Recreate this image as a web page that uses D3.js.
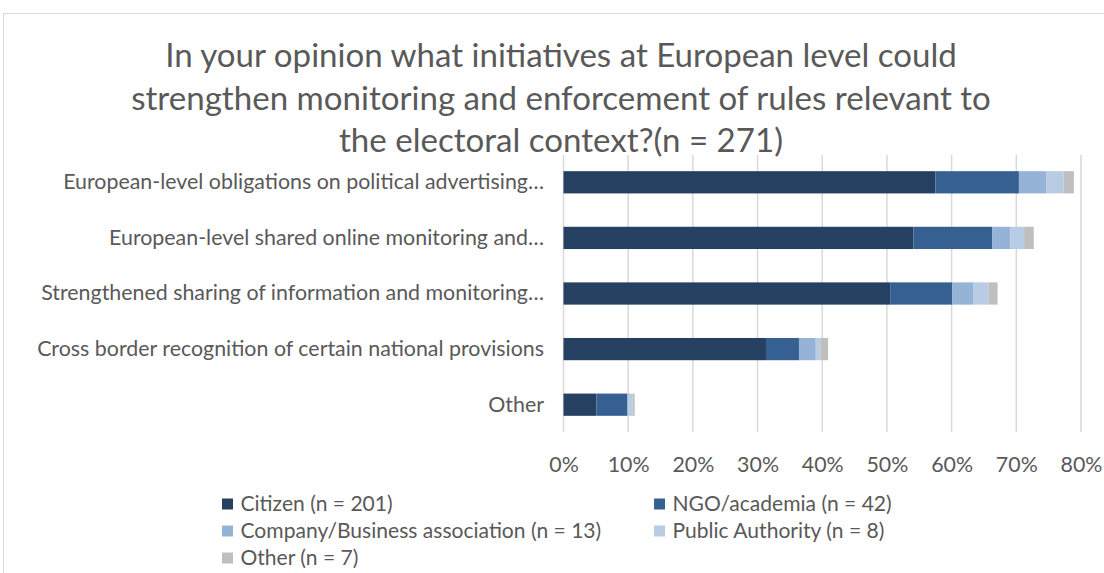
<!DOCTYPE html>
<html>
<head>
<meta charset="utf-8">
<script src="https://cdn.jsdelivr.net/npm/d3@7"></script>
<style>
  html, body { margin: 0; padding: 0; background: #fff; }
  svg { display: block; }
  text { font-family: Lato, "Open Sans", sans-serif; fill: #595959; }
</style>
</head>
<body>
<svg id="chart" width="1104" height="573"></svg>
<script>
// ---- data ----
const titleLines = [
  "In your opinion what initiatives at European level could",
  "strengthen monitoring and enforcement of rules relevant to",
  "the electoral context?(n = 271)"
];
const categories = [
  "European-level obligations on political advertising…",
  "European-level shared online monitoring and…",
  "Strengthened sharing of information and monitoring…",
  "Cross border recognition of certain national provisions",
  "Other"
];
const seriesNames = [
  "Citizen (n = 201)",
  "NGO/academia (n = 42)",
  "Company/Business association (n = 13)",
  "Public Authority (n = 8)",
  "Other (n = 7)"
];
const citizen  = [57.5, 54.1, 50.5, 31.3, 5.1];
const ngo      = [12.9, 12.2,  9.6,  5.1, 4.8];
const company  = [ 4.2,  2.8,  3.2,  2.6, 0.0];
const publicAu = [ 2.7,  2.1,  2.4,  0.7, 0.8];
const other    = [ 1.6,  1.5,  1.4,  1.2, 0.3];
const tickValues = [0, 10, 20, 30, 40, 50, 60, 70, 80];
const tickLabels = ["0%", "10%", "20%", "30%", "40%", "50%", "60%", "70%", "80%"];

const colors = ["#264061", "#366092", "#95B3D7", "#B8CCE4", "#BFBFBF"];

// ---- build table ----
const seriesArrays = [citizen, ngo, company, publicAu, other];
const keys = seriesNames;
const table = categories.map((c, i) => {
  const row = { category: c };
  keys.forEach((k, j) => row[k] = seriesArrays[j][i]);
  return row;
});
const stacked = d3.stack().keys(keys)(table);

const svg = d3.select("#chart");

// chart frame
svg.append("rect")
  .attr("x", 3.5).attr("y", 13.5)
  .attr("width", 1300).attr("height", 700)
  .attr("fill", "none").attr("stroke", "#D9D9D9").attr("stroke-width", 1);

// helper: fit font size so a given string has target width
function fitSize(str, target, base) {
  const t = svg.append("text").attr("font-size", base).text(str);
  const w = t.node().getComputedTextLength();
  t.remove();
  return base * target / w;
}

const titleSize = fitSize(titleLines[0], 792, 28);
const labelSize = fitSize(categories[3], 507, 17);
const legendSize = fitSize(seriesNames[2], 361, 17);

// scales
const x = d3.scaleLinear().domain([0, 80]).range([563.5, 1081]);
const y = d3.scaleBand().domain(categories).range([154.5, 432.5])
  .paddingInner(0.6).paddingOuter(0.3);

// gridlines
svg.append("g").selectAll("line").data(tickValues).join("line")
  .attr("x1", d => x(d)).attr("x2", d => x(d))
  .attr("y1", 155).attr("y2", 432)
  .attr("stroke", "#D9D9D9").attr("stroke-width", 1.5);

// title
svg.append("g").selectAll("text").data(titleLines).join("text")
  .attr("x", 561).attr("y", (d, i) => 67 + i * 42.5)
  .attr("text-anchor", "middle")
  .attr("font-size", titleSize)
  .text(d => d);

// bars
svg.append("g").selectAll("g").data(stacked).join("g")
  .attr("fill", (d, i) => colors[i])
  .selectAll("rect").data(d => d).join("rect")
  .attr("x", d => x(d[0]))
  .attr("width", d => Math.max(0, x(d[1]) - x(d[0])))
  .attr("y", d => y(d.data.category))
  .attr("height", y.bandwidth());

// x axis labels
const xAxis = d3.axisBottom(x).tickValues(tickValues)
  .tickFormat((d, i) => tickLabels[i]).tickSize(0).tickPadding(0);
const gx = svg.append("g").attr("transform", "translate(0,457)").call(xAxis);
gx.select(".domain").remove();
gx.selectAll("text").attr("font-size", labelSize).attr("fill", "#595959")
  .attr("font-family", "Lato, 'Open Sans', sans-serif").attr("dy", "0.71em");

// y axis labels
const yAxis = d3.axisLeft(y).tickSize(0).tickPadding(0);
const gy = svg.append("g").attr("transform", "translate(544,0)").call(yAxis);
gy.select(".domain").remove();
gy.selectAll("text").attr("font-size", labelSize).attr("fill", "#595959")
  .attr("font-family", "Lato, 'Open Sans', sans-serif");

// legend
const legendPos = [
  [222, 504], [654, 504],
  [222, 531], [654, 531],
  [222, 558]
];
const lg = svg.append("g").selectAll("g").data(seriesNames).join("g")
  .attr("transform", (d, i) => `translate(${legendPos[i][0]},${legendPos[i][1]})`);
lg.append("rect").attr("x", 0).attr("y", -5.5).attr("width", 11).attr("height", 11)
  .attr("fill", (d, i) => colors[i]);
lg.append("text").attr("x", 18.5).attr("dy", "0.35em")
  .attr("font-size", legendSize).text(d => d);
</script>
</body>
</html>
